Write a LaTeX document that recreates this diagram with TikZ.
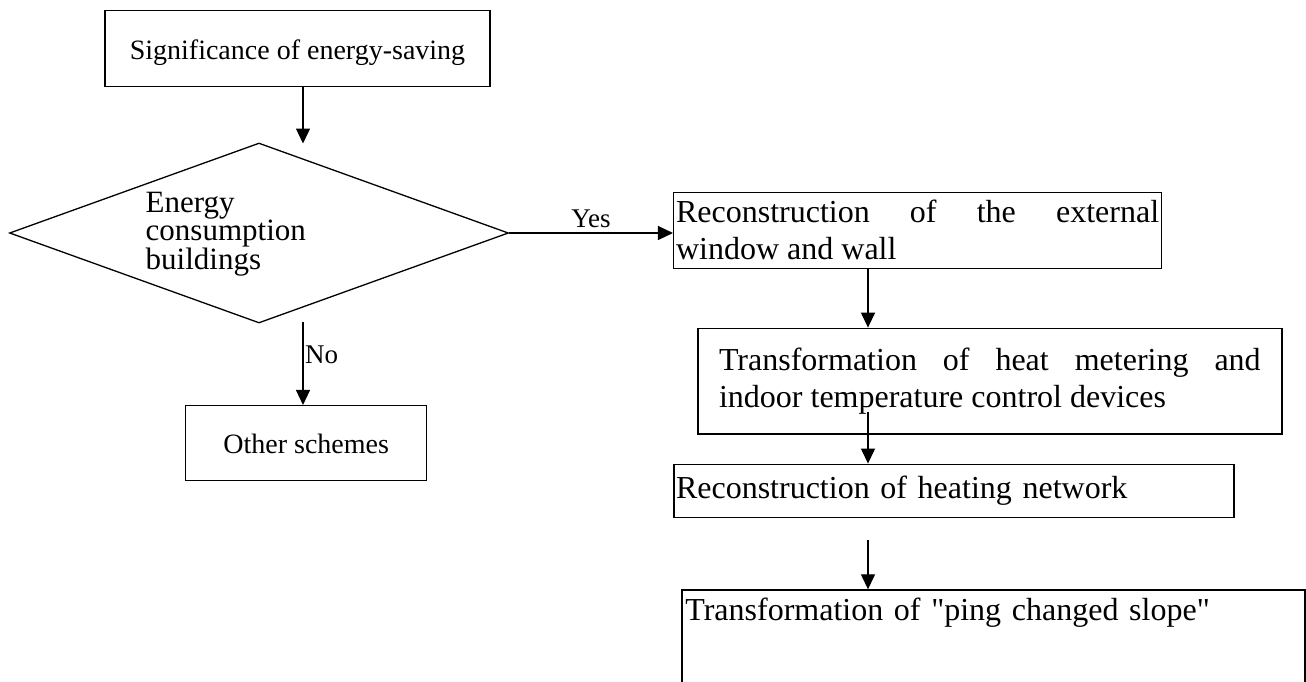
\documentclass[tikz,border=0pt]{standalone}
\usepackage{fontspec}
\setmainfont{Liberation Serif}
\newfontfamily\fontereta{Liberation Serif}
\usetikzlibrary{shapes.geometric,arrows.meta}
\hyphenpenalty=10000
\tolerance=10000

\tikzset{
	caixa/.style={draw, line width=1.5pt, inner sep=0pt},
	losango/.style={draw, diamond, line width=1.3pt, inner sep=0pt},
	seta/.style={-{Triangle[length=15pt,width=14pt]}, line width=1.3pt},
	pequena/.style={font=\fontsize{28}{32}\selectfont},
	grande/.style={font=\fontereta\fontsize{32}{37}\selectfont},
	rotulo/.style={font=\fontsize{27}{30}\selectfont},
}

\begin{document}
\begin{tikzpicture}[x=1pt, y=-1pt]
	
	\useasboundingbox (0,0) rectangle (1306,681);
	\clip (0,0) rectangle (1306,681);
	
	\def\colx{868};
	\def\colesq{303};
	
	\node[caixa, pequena, minimum width=385pt, minimum height=76pt, text height=21pt, text depth=0pt] (sig) at (297.5,48.7) {Significance of energy-saving};
	\node[losango, minimum width=499pt, minimum height=180pt] (cons) at (259,233) {};
	\node[anchor=west, align=left, inner sep=0pt, font=\fontsize{31}{27}\selectfont] (consTxt) at (145.5,234.1) {Energy\\consumption\\buildings};
	\node[caixa, pequena, minimum width=241pt, minimum height=75pt, text height=21pt, text depth=0pt] (other) at (306.2,443.2) {Other schemes};
	
	\node[caixa, grande, text width=483pt, inner xsep=2.4pt, align=justify, minimum height=76pt] (recWall) at (917.6,230.3) {Reconstruction of the external window and wall};
	\node[caixa, grande, text width=541.6pt, inner xsep=21.25pt, align=justify, minimum height=105.7pt] (heat) at (989.85,381.2) {Transformation of heat metering and indoor temperature control devices};
	\node[caixa, grande, text width=555.9pt, inner xsep=2pt, align=left, minimum height=53pt] (net) at (953.95,490.8) {Reconstruction of heating network};
	\node[caixa, grande, anchor=north west, text width=616pt, inner xsep=3.4pt, align=left, text height=30.2pt, text depth=130pt] (ping) at (681.2,589.3) {Transformation of "ping changed slope"};
	
	\coordinate (p1) at (\colesq,143.5);
	\coordinate (p2) at (\colesq,321.7);
	\coordinate (q2) at (\colx,411.7);
	\coordinate (q3) at (\colx,540);
	
	\draw[seta] (sig.south -| p1) -- (p1);
	\draw[seta] (cons.east) -- (cons.east -| recWall.west) node [midway, above, inner sep=4.5pt, rotulo] {Yes};
	\draw[seta] (p2) -- (other.north -| p2) node [pos=0.4, right, inner sep=1.5pt, rotulo] {No};
	
	\draw[seta] (recWall.south -| q2) -- (heat.north -| q2);
	\draw[seta] (q2) -- (net.north -| q2);
	\draw[seta] (q3) -- (ping.north -| q3);

\end{tikzpicture}
\end{document}
